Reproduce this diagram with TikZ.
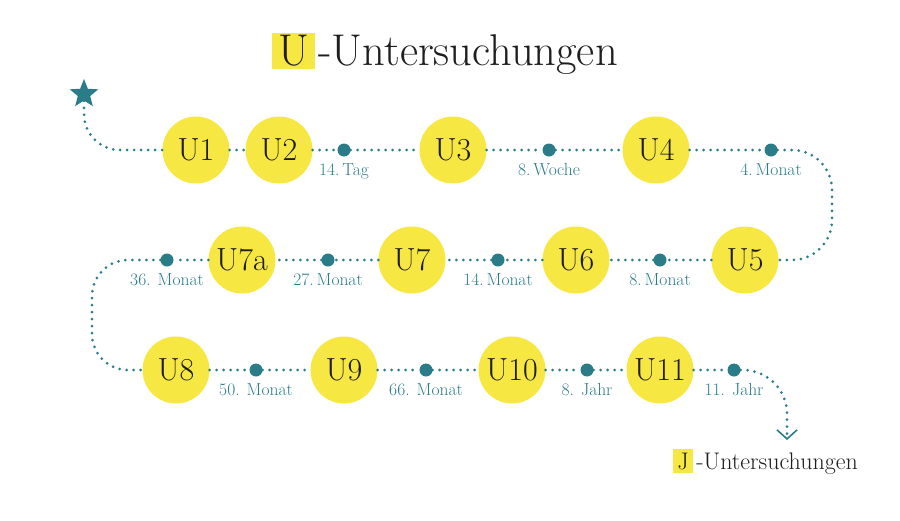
\documentclass[tikz,border=0pt]{standalone}
\usetikzlibrary{arrows.meta,shapes.geometric}
\definecolor{uyellow}{HTML}{F7E743}
\definecolor{uteal}{HTML}{2B7C89}
\definecolor{uink}{HTML}{1E1E1E}

\begin{document}
\begin{tikzpicture}
      [x = 1pt, y = 1pt,
      exam/.style= {
         circle,
         fill = uyellow,
         text = uink,
         minimum size = 67pt,
         inner sep = 0pt,
         font = \fontsize{32}{32}\selectfont
      },
      milestone/.style= {
         circle,
         fill = uteal,
         minimum size = 13pt,
         inner sep = 0pt
      },
      age/.style= {
         text = uteal,
         label distance = 3pt,
         font = \fontsize{17.5}{17.5}\selectfont
      },
      hilite/.style= {
         fill = uyellow,
         text = uink,
         inner sep = 0pt
      },
      trail/.style= {
         uteal,
         line width = 3pt,
         line cap = round,
         dash pattern = on 0pt off 7pt
      }]

      \useasboundingbox (0, 0) rectangle (900, -520);

      % title
      \node[hilite, minimum width = 43pt, minimum height = 36pt,
         font = \fontsize{44.5}{44.5}\selectfont] (ubox) at (293.5, -51) {U};
      \node[anchor = base west, inner sep = 0pt, text = uink,
         font = \fontsize{44.5}{44.5}\selectfont] (utitle) at ([xshift = 3pt]ubox.base east) {-Untersuchungen};

      \node[star, star points = 5, star point ratio = 2.3, fill = uteal,
         minimum size = 30pt, inner sep = 0pt] (start) at (84, -94) {};

      % first row
      \node[exam] (U1) at (196, -150) {U1};
      \node[exam] (U2) at (279, -150) {U2};
      \node[milestone, label = {[age]below:14.\,Tag}] (d1) at (344, -150) {};
      \node[exam] (U3) at (453, -150) {U3};
      \node[milestone, label = {[age]below:8.\,Woche}] (d2) at (549, -150) {};
      \node[exam] (U4) at (656, -150) {U4};
      \node[milestone, label = {[age]below:4.\,Monat}] (d3) at (771, -150) {};

      % second row
      \node[exam] (U5) at (745, -260) {U5};
      \node[milestone, label = {[age]below:8.\,Monat}] (d4) at (660, -260) {};
      \node[exam] (U6) at (576, -260) {U6};
      \node[milestone, label = {[age]below:14.\,Monat}] (d5) at (498, -260) {};
      \node[exam] (U7) at (412, -260) {U7};
      \node[milestone, label = {[age]below:27.\,Monat}] (d6) at (328, -260) {};
      \node[exam] (U7a) at (242, -260) {U7a};
      \node[milestone, label = {[age]below:36. Monat}] (d7) at (167, -260) {};

      % third row
      \node[exam] (U8) at (176, -370) {U8};
      \node[milestone, label = {[age]below:50. Monat}] (d8) at (256, -370) {};
      \node[exam] (U9) at (344, -370) {U9};
      \node[milestone, label = {[age]below:66. Monat}] (d9) at (426, -370) {};
      \node[exam] (U10) at (512, -370) {U10};
      \node[milestone, label = {[age]below:8. Jahr}] (d10) at (587, -370) {};
      \node[exam] (U11) at (660, -370) {U11};
      \node[milestone, label = {[age]below:11. Jahr}] (d11) at (734, -370) {};

      \coordinate (rtop) at (832, -150);
      \coordinate (rbot) at (832, -260);
      \coordinate (ltop) at (92, -260);
      \coordinate (lbot) at (92, -370);
      \coordinate (jend) at (787, -440);

      \node[hilite, minimum width = 20pt, minimum height = 24pt,
         font = \fontsize{24}{24}\selectfont] (jbox) at (683, -461) {J};
      \node[anchor = base west, inner sep = 0pt, text = uink,
         font = \fontsize{24}{24}\selectfont] (jtitle) at ([xshift = 3pt]jbox.base east) {-Untersuchungen};

      % dotted trail
      \draw[trail, rounded corners = 36pt] (start) |- (U1);
      \foreach \a/\b in {U1/U2, U2/d1, d1/U3, U3/d2, d2/U4, U4/d3,
         U5/d4, d4/U6, U6/d5, d5/U7, U7/d6, d6/U7a, U7a/d7,
         U8/d8, d8/U9, U9/d9, d9/U10, U10/d10, d10/U11, U11/d11}
         \draw[trail] (\a) -- (\b);
      \draw[trail, rounded corners = 40pt] (d3) -- (rtop) -- (rbot) -- (U5);
      \draw[trail, rounded corners = 36pt] (d7) -- (ltop) -- (lbot) -- (U8);
      \draw[trail, rounded corners = 44pt,
         -{Straight Barb[length = 9pt, width = 20pt, line width = 1.6pt]}] (d11) -| (jend);

   \end{tikzpicture}
\end{document}
